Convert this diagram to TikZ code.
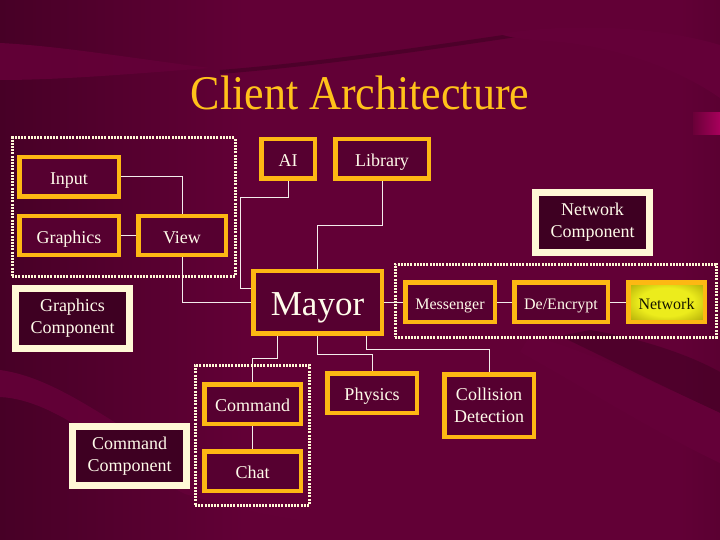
\documentclass[tikz,border=0pt]{standalone}
\usepackage{fontspec}
\setmainfont{Liberation Serif}
\definecolor{gold}{HTML}{FDB813}
\definecolor{cream}{HTML}{FFF8D6}
\definecolor{txt}{HTML}{FFFBEA}
\definecolor{boxfill}{HTML}{560030}
\definecolor{compfill}{HTML}{3E0022}
\definecolor{bgmid}{HTML}{620036}
\definecolor{bgdark}{HTML}{1F000F}
\definecolor{band}{HTML}{640038}
\definecolor{darkline}{HTML}{3A001F}
\definecolor{titlec}{HTML}{FFC21A}
\definecolor{yel}{HTML}{ECEC1C}
\definecolor{yeldark}{HTML}{9C9400}
\definecolor{conncol}{HTML}{F4ECEC}
\definecolor{tabl}{HTML}{6A0038}
\definecolor{tabr}{HTML}{A8005C}
\pgfdeclarelayer{bg}
\pgfdeclarelayer{edges}
\pgfsetlayers{bg,edges,main}
\pgfdeclarehorizontalshading{bgh}{100bp}{color(0bp)=(bgdark); color(42bp)=(bgmid); color(72bp)=(bgmid); color(100bp)=(bgdark)}
\pgfdeclareradialshading{yshade}{\pgfpoint{0bp}{0bp}}{color(0bp)=(yel); color(18bp)=(yel); color(40bp)=(yeldark); color(80bp)=(yeldark)}
\tikzset{
  base/.style={draw=gold, line width=4.5pt, fill=boxfill, text=txt, inner sep=0pt, align=center, font=\fontsize{18}{22}\selectfont},
  box/.style={base, text height=15.5pt, text depth=0pt},
  comp/.style={base, draw=cream, line width=7pt, fill=compfill},
  smalltext/.style={font=\fontsize{16}{19}\selectfont},
  group/.style={draw=cream, line width=3pt, dash pattern=on 2pt off 1.2pt, inner sep=0pt},
  conn/.style={draw=conncol, line width=1pt},
}
\begin{document}
\begin{tikzpicture}[x=1pt,y=-1pt]
\useasboundingbox (0,0) rectangle (720,540);
\begin{pgfonlayer}{bg}
  \shade[shading=bgh] (0,0) rectangle (720,540);
  % top-left band
  \fill[band, opacity=0.9] (0,43) .. controls (60,46) and (130,58) .. (210,68) .. controls (130,74) and (60,80) .. (0,80) -- cycle;
  % dark streak
  \draw[darkline, line width=4pt, opacity=0.5] (220,72) .. controls (320,64) and (430,48) .. (530,33);
  % top-right band
  \fill[band] (500,34) .. controls (560,24) and (650,24) .. (720,45) -- (720,98) .. controls (680,70) and (620,48) .. (560,42) .. controls (530,40) and (510,38) .. (500,34) -- cycle;
  % lower-right dark streak and band
  \fill[darkline, opacity=0.45] (590,330) .. controls (640,338) and (690,355) .. (720,372) -- (720,413) .. controls (670,390) and (610,360) .. (560,336) -- cycle;
  \fill[band] (530,335) .. controls (590,352) and (660,385) .. (720,413) -- (720,463) .. controls (650,430) and (580,385) .. (520,352) -- cycle;
  % lower-left band
  \fill[band, opacity=0.9] (0,370) .. controls (60,378) and (120,430) .. (190,468) .. controls (220,484) and (260,496) .. (300,503) -- (300,520) .. controls (250,512) and (215,503) .. (185,494) .. controls (115,458) and (60,400) .. (0,397) -- cycle;
  % small tab at right
  \shade[left color=tabl, right color=tabr] (693,113) rectangle (720,135);
\end{pgfonlayer}

\node[font=\fontsize{44}{50}\selectfont, text=titlec, anchor=base, yscale=1.1] (title) at (360,110) {Client Architecture};

% groups
\node[group, minimum width=223pt, minimum height=138pt] (g1) at (123.5,207) {};
\node[group, minimum width=321pt, minimum height=73pt] (g2) at (555.5,300.5) {};
\node[group, minimum width=114pt, minimum height=140pt] (g3) at (252,435) {};

% boxes
\node[box, minimum width=99.5pt, minimum height=39.5pt] (input) at (69,177) {Input};
\node[box, minimum width=99.5pt, minimum height=38.5pt] (graphics) at (69,235.5) {Graphics};
\node[box, minimum width=87.5pt, minimum height=38.5pt] (view) at (182,235.5) {View};
\node[box, minimum width=53.5pt, minimum height=39.5pt] (ai) at (288,159) {AI};
\node[box, minimum width=93.5pt, minimum height=39.5pt] (library) at (382,159) {Library};
\node[box, minimum width=128.5pt, minimum height=62.5pt, font=\fontsize{35}{40}\selectfont, text height=27pt] (mayor) at (317.5,302) {Mayor};
\node[box, smalltext, minimum width=89.5pt, minimum height=39.5pt] (messenger) at (450,302) {Messenger};
\node[box, smalltext, minimum width=93.5pt, minimum height=39.5pt] (deenc) at (561,302) {De/Encrypt};
\node[box, smalltext, minimum width=76.5pt, minimum height=39.5pt, shade, shading=yshade, text=black!85!yeldark] (network) at (666.5,302) {Network};
\node[box, minimum width=96.5pt, minimum height=39.5pt] (command) at (252.5,404) {Command};
\node[box, minimum width=96.5pt, minimum height=39.5pt] (chat) at (252.5,471) {Chat};
\node[box, minimum width=89.5pt, minimum height=39.5pt] (physics) at (372,393) {Physics};
\node[base, minimum width=89.5pt, minimum height=62.5pt] (collision) at (489,405.5) {Collision\\Detection};
\node[comp, minimum width=114pt, minimum height=60pt] (netcomp) at (592.5,222.5) {Network\\Component};
\node[comp, minimum width=114pt, minimum height=60pt] (graphcomp) at (72.5,318.5) {Graphics\\Component};
\node[comp, minimum width=114pt, minimum height=59pt] (cmdcomp) at (129.5,456) {Command\\Component};

% connectors
\begin{pgfonlayer}{edges}
\coordinate (aibend) at (240,198);
\coordinate (libbend) at (317.5,226);
\coordinate (cmdbend) at (252.5,358);
\coordinate (phybend) at (372,354);
\coordinate (colbend) at (489,349);
\draw[conn] (input.east) -| (view.north);
\draw[conn] (graphics.east) -- (view.west);
\draw[conn] (view.south) |- (mayor.west);
\draw[conn] (ai.south) |- (aibend) |- (mayor.west |- 0,288);
\draw[conn] (library.south) |- (libbend) -- (mayor.north);
\draw[conn] (mayor.east) -- (messenger.west);
\draw[conn] (messenger.east) -- (deenc.west);
\draw[conn] (deenc.east) -- (network.west);
\draw[conn] ([xshift=-40.5pt]mayor.south) |- (cmdbend) -- (command.north);
\draw[conn] (mayor.south) |- (phybend) -- (physics.north);
\draw[conn] ([xshift=48.5pt]mayor.south) |- (colbend) -- (collision.north);
\draw[conn] (command.south) -- (chat.north);
\end{pgfonlayer}
\end{tikzpicture}
\end{document}
